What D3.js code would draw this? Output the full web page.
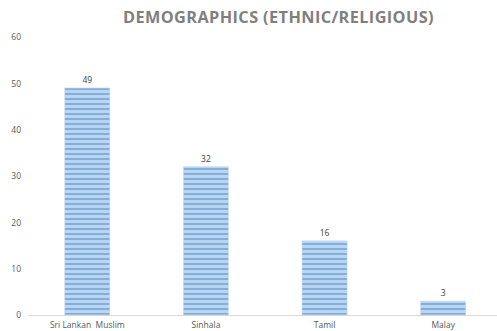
<!DOCTYPE html>
<html>
<head>
<meta charset="utf-8">
<script src="https://cdn.jsdelivr.net/npm/d3@7"></script>
<style>
body{margin:0;background:#fff;}
svg{display:block;font-family:"Open Sans",Calibri,sans-serif;}
</style>
</head>
<body>
<svg id="chart" width="497" height="331"></svg>
<script>
const categories = ["Sri Lankan  Muslim", "Sinhala", "Tamil", "Malay"];
const values = [49, 32, 16, 3];
const yTicks = [0, 10, 20, 30, 40, 50, 60];
const title = "DEMOGRAPHICS (ETHNIC/RELIGIOUS)";

const svg = d3.select("#chart");
const defs = svg.append("defs");
const pat = defs.append("pattern").attr("id","stripes").attr("patternUnits","userSpaceOnUse")
  .attr("width",10).attr("height",5);
pat.append("rect").attr("width",10).attr("height",5).attr("fill","#b6d6f3");
pat.append("rect").attr("y",3).attr("width",10).attr("height",2).attr("fill","#86add6");

const x = d3.scaleBand().domain(categories).range([28, 502.5]).paddingInner(0.62).paddingOuter(0.31);
const y = d3.scaleLinear().domain([0, 60]).range([315, 37]);

svg.append("text").attr("x", 278.5).attr("y", 23).attr("text-anchor","middle")
  .attr("font-size", 16.3).attr("font-weight","bold").attr("fill","#7f7f7f")
  .attr("letter-spacing", 0.4).text(title);

const yAxis = svg.append("g").attr("transform","translate(21,0)")
  .call(d3.axisLeft(y).tickValues(yTicks).tickSize(0).tickPadding(0));
yAxis.select(".domain").remove();
yAxis.selectAll("text").attr("font-size", 8.5).attr("fill","#595959").attr("font-family","'Open Sans',sans-serif");

svg.selectAll("rect.bar").data(values).join("rect").attr("class","bar")
  .attr("x",(d,i)=>x(categories[i])).attr("width",x.bandwidth())
  .attr("y",d=>y(d)).attr("height",d=>y(0)-y(d))
  .attr("fill","url(#stripes)").attr("stroke","#c4dcf2").attr("stroke-width",0.6);

svg.selectAll("text.val").data(values).join("text").attr("class","val")
  .attr("x",(d,i)=>x(categories[i])+x.bandwidth()/2).attr("y",d=>y(d)-5)
  .attr("text-anchor","middle").attr("font-size",8.5).attr("fill","#404040").text(d=>d);

const xAxis = svg.append("g").attr("transform",`translate(0,${y(0)})`)
  .call(d3.axisBottom(x).tickSize(0).tickPadding(7));
xAxis.select(".domain").attr("stroke","#d9d9d9").attr("stroke-width",1.2);
xAxis.selectAll("text").attr("font-size",8.5).attr("fill","#595959").attr("font-family","'Open Sans',sans-serif")
  .attr("xml:space","preserve").style("white-space","pre");
</script>
</body>
</html>
